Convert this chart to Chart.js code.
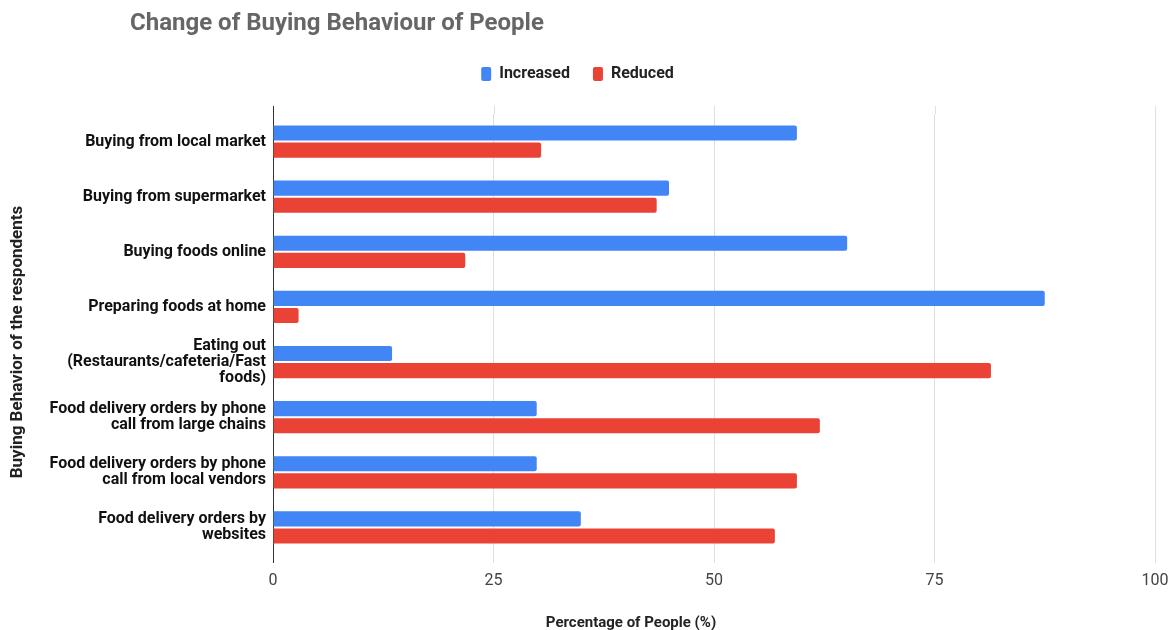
<!DOCTYPE html>
<html>
<head>
<meta charset="utf-8">
<title>Change of Buying Behaviour of People</title>
<script src="https://cdn.jsdelivr.net/npm/chart.js@4.4.1/dist/chart.umd.min.js"></script>
<style>
  html, body { margin: 0; padding: 0; background: #fff; }
  #wrap { width: 1169px; height: 630px; position: relative; }
</style>
</head>
<body>
<div id="wrap"><canvas id="buying-chart"></canvas></div>
<script>
const behaviourLabels = [
  'Buying from local market',
  'Buying from supermarket',
  'Buying foods online',
  'Preparing foods at home',
  ['Eating out', '(Restaurants/cafeteria/Fast', 'foods)'],
  ['Food delivery orders by phone', 'call from large chains'],
  ['Food delivery orders by phone', 'call from local vendors'],
  ['Food delivery orders by', 'websites'],
];
const increasedValues = [59.4, 44.9, 65.1, 87.5, 13.5, 29.9, 29.9, 34.9];
const reducedValues = [30.4, 43.5, 21.8, 2.9, 81.4, 62.0, 59.4, 56.9];
const percentTicks = [0, 25, 50, 75, 100];

const chartTitle = 'Change of Buying Behaviour of People';
const xAxisTitle = 'Percentage of People (%)';
const yAxisTitle = 'Buying Behavior of the respondents';

const FONT = 'Roboto, "Liberation Sans", Arial, sans-serif';

// titles are drawn by hand so they sit where the original has them
const titlesPlugin = {
  id: 'titles',
  beforeLayout(chart) {
    if (chart.legend && !chart.legend._patched) {
      const origFit = chart.legend.fit;
      chart.legend.fit = function () {
        origFit.call(this);
        this.height = 71;
      };
      chart.legend._patched = true;
    }
  },
  afterDraw(chart) {
    const ctx = chart.ctx;
    const area = chart.chartArea;
    const xScale = chart.scales.x;
    ctx.save();

    // little grid stubs above the plot, like the original
    ctx.lineWidth = 1;
    xScale.ticks.forEach(t => {
      const px = Math.round(xScale.getPixelForValue(t.value)) + 0.5;
      ctx.strokeStyle = t.value === 0 ? '#333333' : '#e0e0e0';
      ctx.beginPath();
      ctx.moveTo(px, area.top - 8);
      ctx.lineTo(px, area.top);
      ctx.stroke();
    });

    ctx.fillStyle = '#666666';
    ctx.font = 'bold 24px ' + FONT;
    ctx.textAlign = 'left';
    ctx.textBaseline = 'middle';
    ctx.fillText(chartTitle, 130, 24);

    ctx.fillStyle = '#222222';
    ctx.font = 'bold 15px ' + FONT;
    ctx.textAlign = 'center';
    ctx.fillText(xAxisTitle, 631, 623);

    ctx.font = 'bold 17px ' + FONT;
    ctx.translate(18, 342);
    ctx.rotate(-Math.PI / 2);
    ctx.fillText(yAxisTitle, 0, 0);
    ctx.restore();
  },
};

const ctx = document.getElementById('buying-chart').getContext('2d');

new Chart(ctx, {
  type: 'bar',
  data: {
    labels: behaviourLabels,
    datasets: [
      {
        label: 'Increased',
        data: increasedValues,
        backgroundColor: '#4285f4',
        borderRadius: 2,
        borderSkipped: 'start',
        barPercentage: 0.88,
        categoryPercentage: 0.62,
      },
      {
        label: 'Reduced',
        data: reducedValues,
        backgroundColor: '#ea4335',
        borderRadius: 2,
        borderSkipped: 'start',
        barPercentage: 0.88,
        categoryPercentage: 0.62,
      },
    ],
  },
  options: {
    indexAxis: 'y',
    responsive: true,
    maintainAspectRatio: false,
    animation: false,
    layout: {
      padding: { top: 43, left: 0, right: 14, bottom: 0 },
    },
    plugins: {
      title: { display: false },
      tooltip: { enabled: false },
      legend: {
        display: true,
        position: 'top',
        align: 'center',
        labels: {
          boxWidth: 10,
          boxHeight: 14,
          useBorderRadius: true,
          borderRadius: 2,
          padding: 23,
          color: '#222222',
          font: { family: FONT, size: 16, weight: 'bold' },
        },
      },
    },
    scales: {
      x: {
        min: 0,
        max: 100,
        afterBuildTicks(scale) {
          scale.ticks = percentTicks.map(v => ({ value: v }));
        },
        afterFit(scale) {
          scale.height = 75;
          scale.paddingLeft = 0;
          scale.paddingRight = 0;
        },
        border: { display: false },
        grid: {
          color: c => (c.tick && c.tick.value === 0 ? '#333333' : '#e0e0e0'),
          lineWidth: 1,
          drawTicks: true,
          tickLength: 8,
        },
        ticks: {
          padding: 8,
          color: '#444444',
          font: { family: FONT, size: 16 },
        },
      },
      y: {
        afterFit(scale) {
          scale.width = 273;
        },
        border: { display: true, color: '#333333', width: 1 },
        grid: { display: false, drawTicks: false },
        ticks: {
          padding: 7,
          color: '#111111',
          font: { family: FONT, size: 16, weight: 'bold', lineHeight: 1.0 },
        },
      },
    },
  },
  plugins: [titlesPlugin],
});
</script>
</body>
</html>
